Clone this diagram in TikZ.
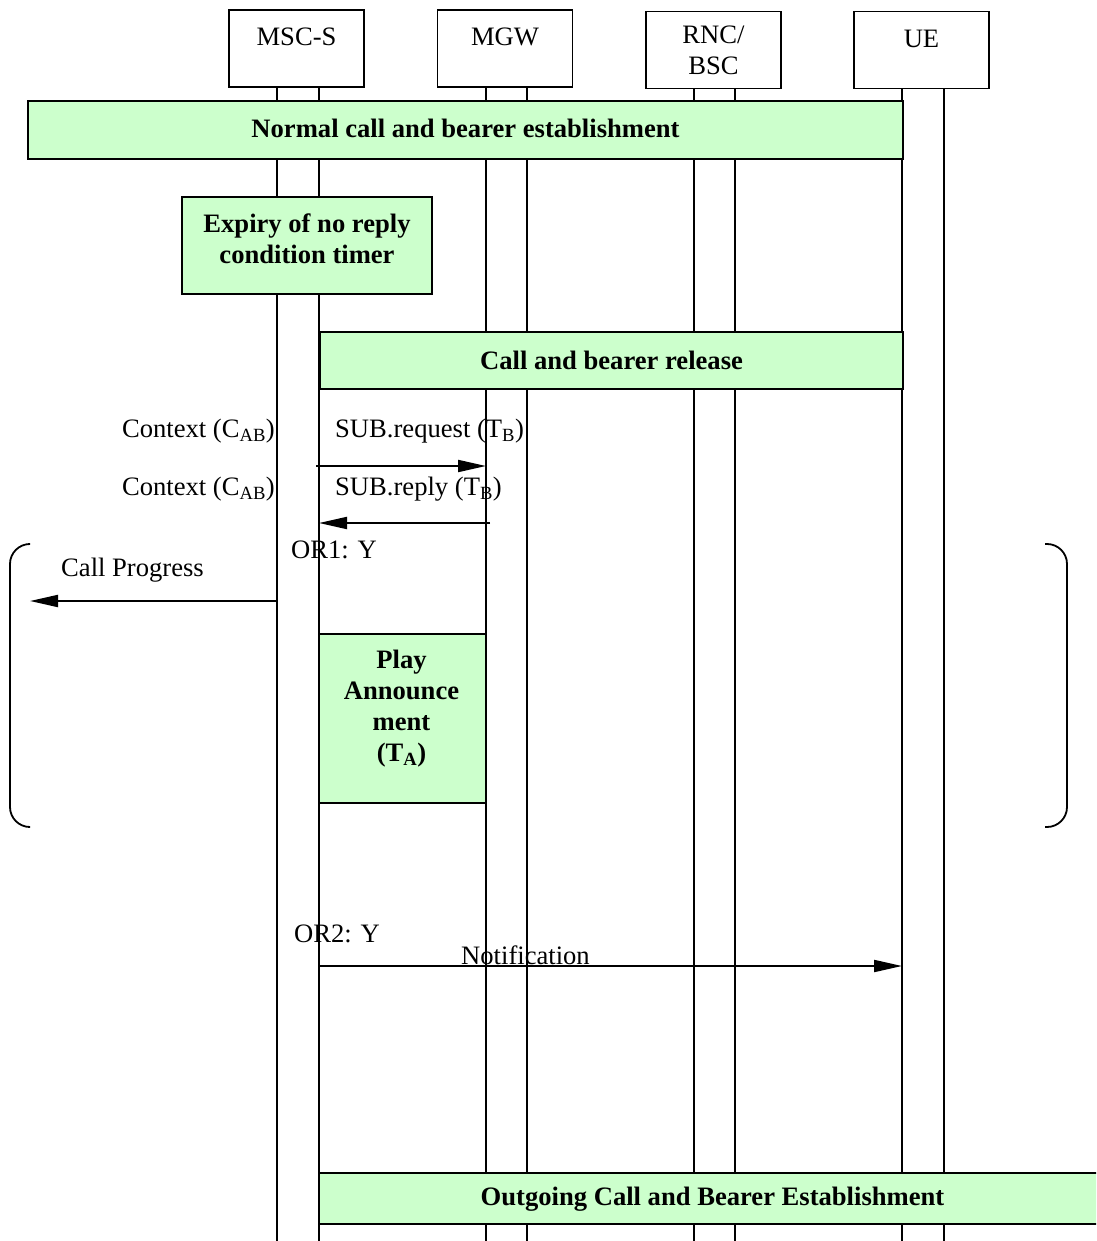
\documentclass[tikz,border=0pt]{standalone}
\usepackage{fontspec}
\setmainfont{Liberation Serif}
\usetikzlibrary{arrows.meta}
\definecolor{bargreen}{HTML}{CCFFCC}

\begin{document}
\begin{tikzpicture}[
    x=1pt, y=-1pt,
    font=\fontsize{26.6}{31}\selectfont,
    entity/.style={
        rectangle,
        draw=black,
        line width=1.8pt,
        fill=white,
        minimum width=135pt,
        minimum height=77pt,
        align=center,
        inner sep=0pt
    },
    phasebar/.style={
        rectangle,
        draw=black,
        line width=1.8pt,
        fill=bargreen,
        align=center,
        inner sep=0pt,
        font=\fontsize{26.6}{31}\selectfont\bfseries
    },
    life/.style={
        line width=1.6pt
    },
    msg/.style={
        -{Triangle[length=28pt,width=12pt]},
        line width=2pt
    },
    txt/.style={
        inner sep=0pt
    },
    boldtxt/.style={
        inner sep=0pt,
        align=center,
        font=\fontsize{26.6}{31}\selectfont\bfseries
    },
    bracket/.style={
        line width=1.8pt,
        rounded corners=20pt
    }
]
\clip (0,0) rectangle (1096,1241);

% Entity boxes
\node[entity] (msc) at (296.5,48.5) {MSC-S\\[-8pt]\mbox{}};
\node[entity] (mgw) at (505,48.5) {MGW\\[-8pt]\mbox{}};
\node[entity] (rnc) at (713.5,50) {RNC/\\BSC};
\node[entity] (ue) at (921.5,50) {UE\\[-8pt]\mbox{}};

% Lifelines
\foreach \n/\a/\b in {msc/277/319, mgw/486/527, rnc/694/735, ue/902/944} {
    \coordinate (\n A) at (\a,1241);
    \coordinate (\n B) at (\b,1241);
    \draw[life] (\n.south -| \n A) -- (\n A);
    \draw[life] (\n.south -| \n B) -- (\n B);
}

% Procedure bars
\node[phasebar, minimum width=875pt, minimum height=58pt] (normal) at (465.5,130) {};
\node[boldtxt] (normaltxt) at (465.5,128) {Normal call and bearer establishment};
\node[phasebar, minimum width=250pt, minimum height=97pt] (expiry) at (307,245.5) {};
\node[boldtxt] (expirytxt) at (307,239) {Expiry of no reply\\condition timer};
\node[phasebar, minimum width=583pt, minimum height=57pt] (release) at (611.5,360.5) {Call and bearer release};
\node[phasebar, minimum width=167pt, minimum height=169pt] (play) at (402.5,718.5) {};
\node[boldtxt] (playtxt) at (401.5,709) {Play\\Announce\\ment\\(T\textsubscript{A})};
\node[phasebar, minimum width=787pt, minimum height=51pt] (outgoing) at (712.5,1198.5) {};
\node[boldtxt] (outgoingtxt) at (712.5,1199) {Outgoing Call and Bearer Establishment};

% Messages
\draw[msg] (mscB |- 0,466) ++(-3,0) -- (mgwA |- 0,466);
\draw[msg] (mgwA |- 0,523) ++(4,0) -- (mscB |- 0,523);
\coordinate (cpend) at (30,601);
\draw[msg] (mscA |- cpend) -- (cpend);
\draw[msg] (mscB |- 0,966) -- (ueA |- 0,966);

% Message labels
\node[txt, anchor=east] (ctx1) at (275,431) {Context (C\textsubscript{AB})};
\node[txt, anchor=west] (subreq) at (335,431) {SUB.request (T\textsubscript{B})};
\node[txt, anchor=east] (ctx2) at (275,489) {Context (C\textsubscript{AB})};
\node[txt, anchor=west] (subrep) at (335,489) {SUB.reply (T\textsubscript{B})};
\node[txt, anchor=west] (or1) at (291,550) {OR1: Y};
\node[txt, anchor=west] (cprog) at (61,570) {Call Progress};
\node[txt, anchor=west] (or2) at (294,934) {OR2: Y};
\node[txt, anchor=west] (notif) at (461,955) {Notification};

% Option brackets
\draw[bracket] (28,544) -- (10,544) -- (10,827) -- (28,827);
\draw[bracket] (1045,544) -- (1067,544) -- (1067,827) -- (1045,827);

\end{tikzpicture}
\end{document}
